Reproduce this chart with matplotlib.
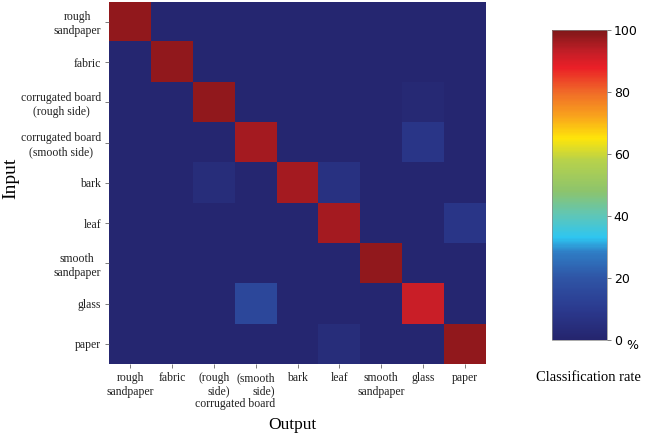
import numpy as np
import matplotlib
matplotlib.use("Agg")
import matplotlib.pyplot as plt
from matplotlib.colors import LinearSegmentedColormap

# 数据
row_labels = ["rough\nsandpaper", "fabric", "corrugated board\n(rough side)",
              "corrugated board\n(smooth side)", "bark", "leaf",
              "smooth\nsandpaper", "glass", "paper"]
col_labels = ["rough\nsandpaper", "fabric", "(rough\nside)", "(smooth\nside)",
              "bark", "leaf", "smooth\nsandpaper", "glass", "paper"]
rates = np.array([
    [98, 1, 1, 1, 1, 1, 1, 1, 1],
    [1, 98, 1, 1, 1, 1, 1, 1, 1],
    [1, 1, 98, 1, 1, 1, 1, 2, 1],
    [1, 1, 1, 96, 1, 1, 1, 8, 1],
    [1, 1, 4, 1, 96, 6, 1, 1, 1],
    [1, 1, 1, 1, 1, 96, 1, 1, 8],
    [1, 1, 1, 1, 1, 1, 98, 1, 1],
    [1, 1, 1, 15, 1, 1, 1, 92, 1],
    [1, 1, 1, 1, 1, 4, 1, 1, 98],
])
cbar_ticks = [0, 20, 40, 60, 80, 100]

# 颜色映射
anchors = [
    (0.00, "#25256e"), (0.10, "#2b3a8f"), (0.20, "#2f55a6"), (0.28, "#2f7cc4"),
    (0.33, "#2ec6f1"), (0.40, "#5ec6b8"), (0.48, "#8dc46c"), (0.58, "#b8d24a"),
    (0.65, "#fee50a"), (0.72, "#f9a51c"), (0.80, "#f06a28"), (0.88, "#ea1f27"),
    (0.93, "#c31e27"), (1.00, "#7e1718"),
]
cmap = LinearSegmentedColormap.from_list("rate", anchors)

serif = "Liberation Serif"
tick_fs = 8.5
txt_col = "#222222"

fig = plt.figure(figsize=(6.47, 4.38), dpi=100)
ax = fig.add_axes([0.169, 0.169, 0.582, 0.827])
im = ax.imshow(rates, cmap=cmap, vmin=0, vmax=100, aspect="auto",
               interpolation="nearest")

ax.set_xticks(range(len(col_labels)))
ax.set_yticks(range(len(row_labels)))
ax.set_yticklabels(row_labels, fontsize=tick_fs, family=serif, color=txt_col,
                   multialignment="center", linespacing=1.2)
xl = ax.set_xticklabels(col_labels, fontsize=tick_fs, family=serif,
                        color=txt_col, linespacing=1.15)
for i, t in enumerate(xl):
    t.set_multialignment("right" if i in (2, 3) else "center")
# 两个 corrugated board 列共用一行标签
ax.annotate("corrugated board", xy=(2.5, 0), xycoords=("data", "axes fraction"),
            xytext=(0, -29), textcoords="offset points", ha="center",
            va="center", fontsize=tick_fs, family=serif, color=txt_col)
ax.tick_params(length=3, width=0.6, color="#666666", pad=3)
for s in ax.spines.values():
    s.set_visible(False)

fig.text(0.016, 0.594, "Input", rotation=90, ha="center", va="center",
         fontsize=14, family=serif)
fig.text(0.452, 0.03, "Output", ha="center", va="center",
         fontsize=12.5, family=serif)

cax = fig.add_axes([0.853, 0.224, 0.085, 0.708])
cb = fig.colorbar(im, cax=cax, ticks=cbar_ticks)
cb.outline.set_linewidth(0.5)
cb.outline.set_edgecolor("#888888")
cax.tick_params(labelsize=9, length=3, width=0.6, color="#666666", pad=2)
fig.text(0.977, 0.212, "%", ha="center", va="center", fontsize=9)
fig.text(0.909, 0.137, "Classification rate", ha="center", va="center",
         fontsize=10.5, family=serif)

fig.savefig("out.png", dpi=100)
